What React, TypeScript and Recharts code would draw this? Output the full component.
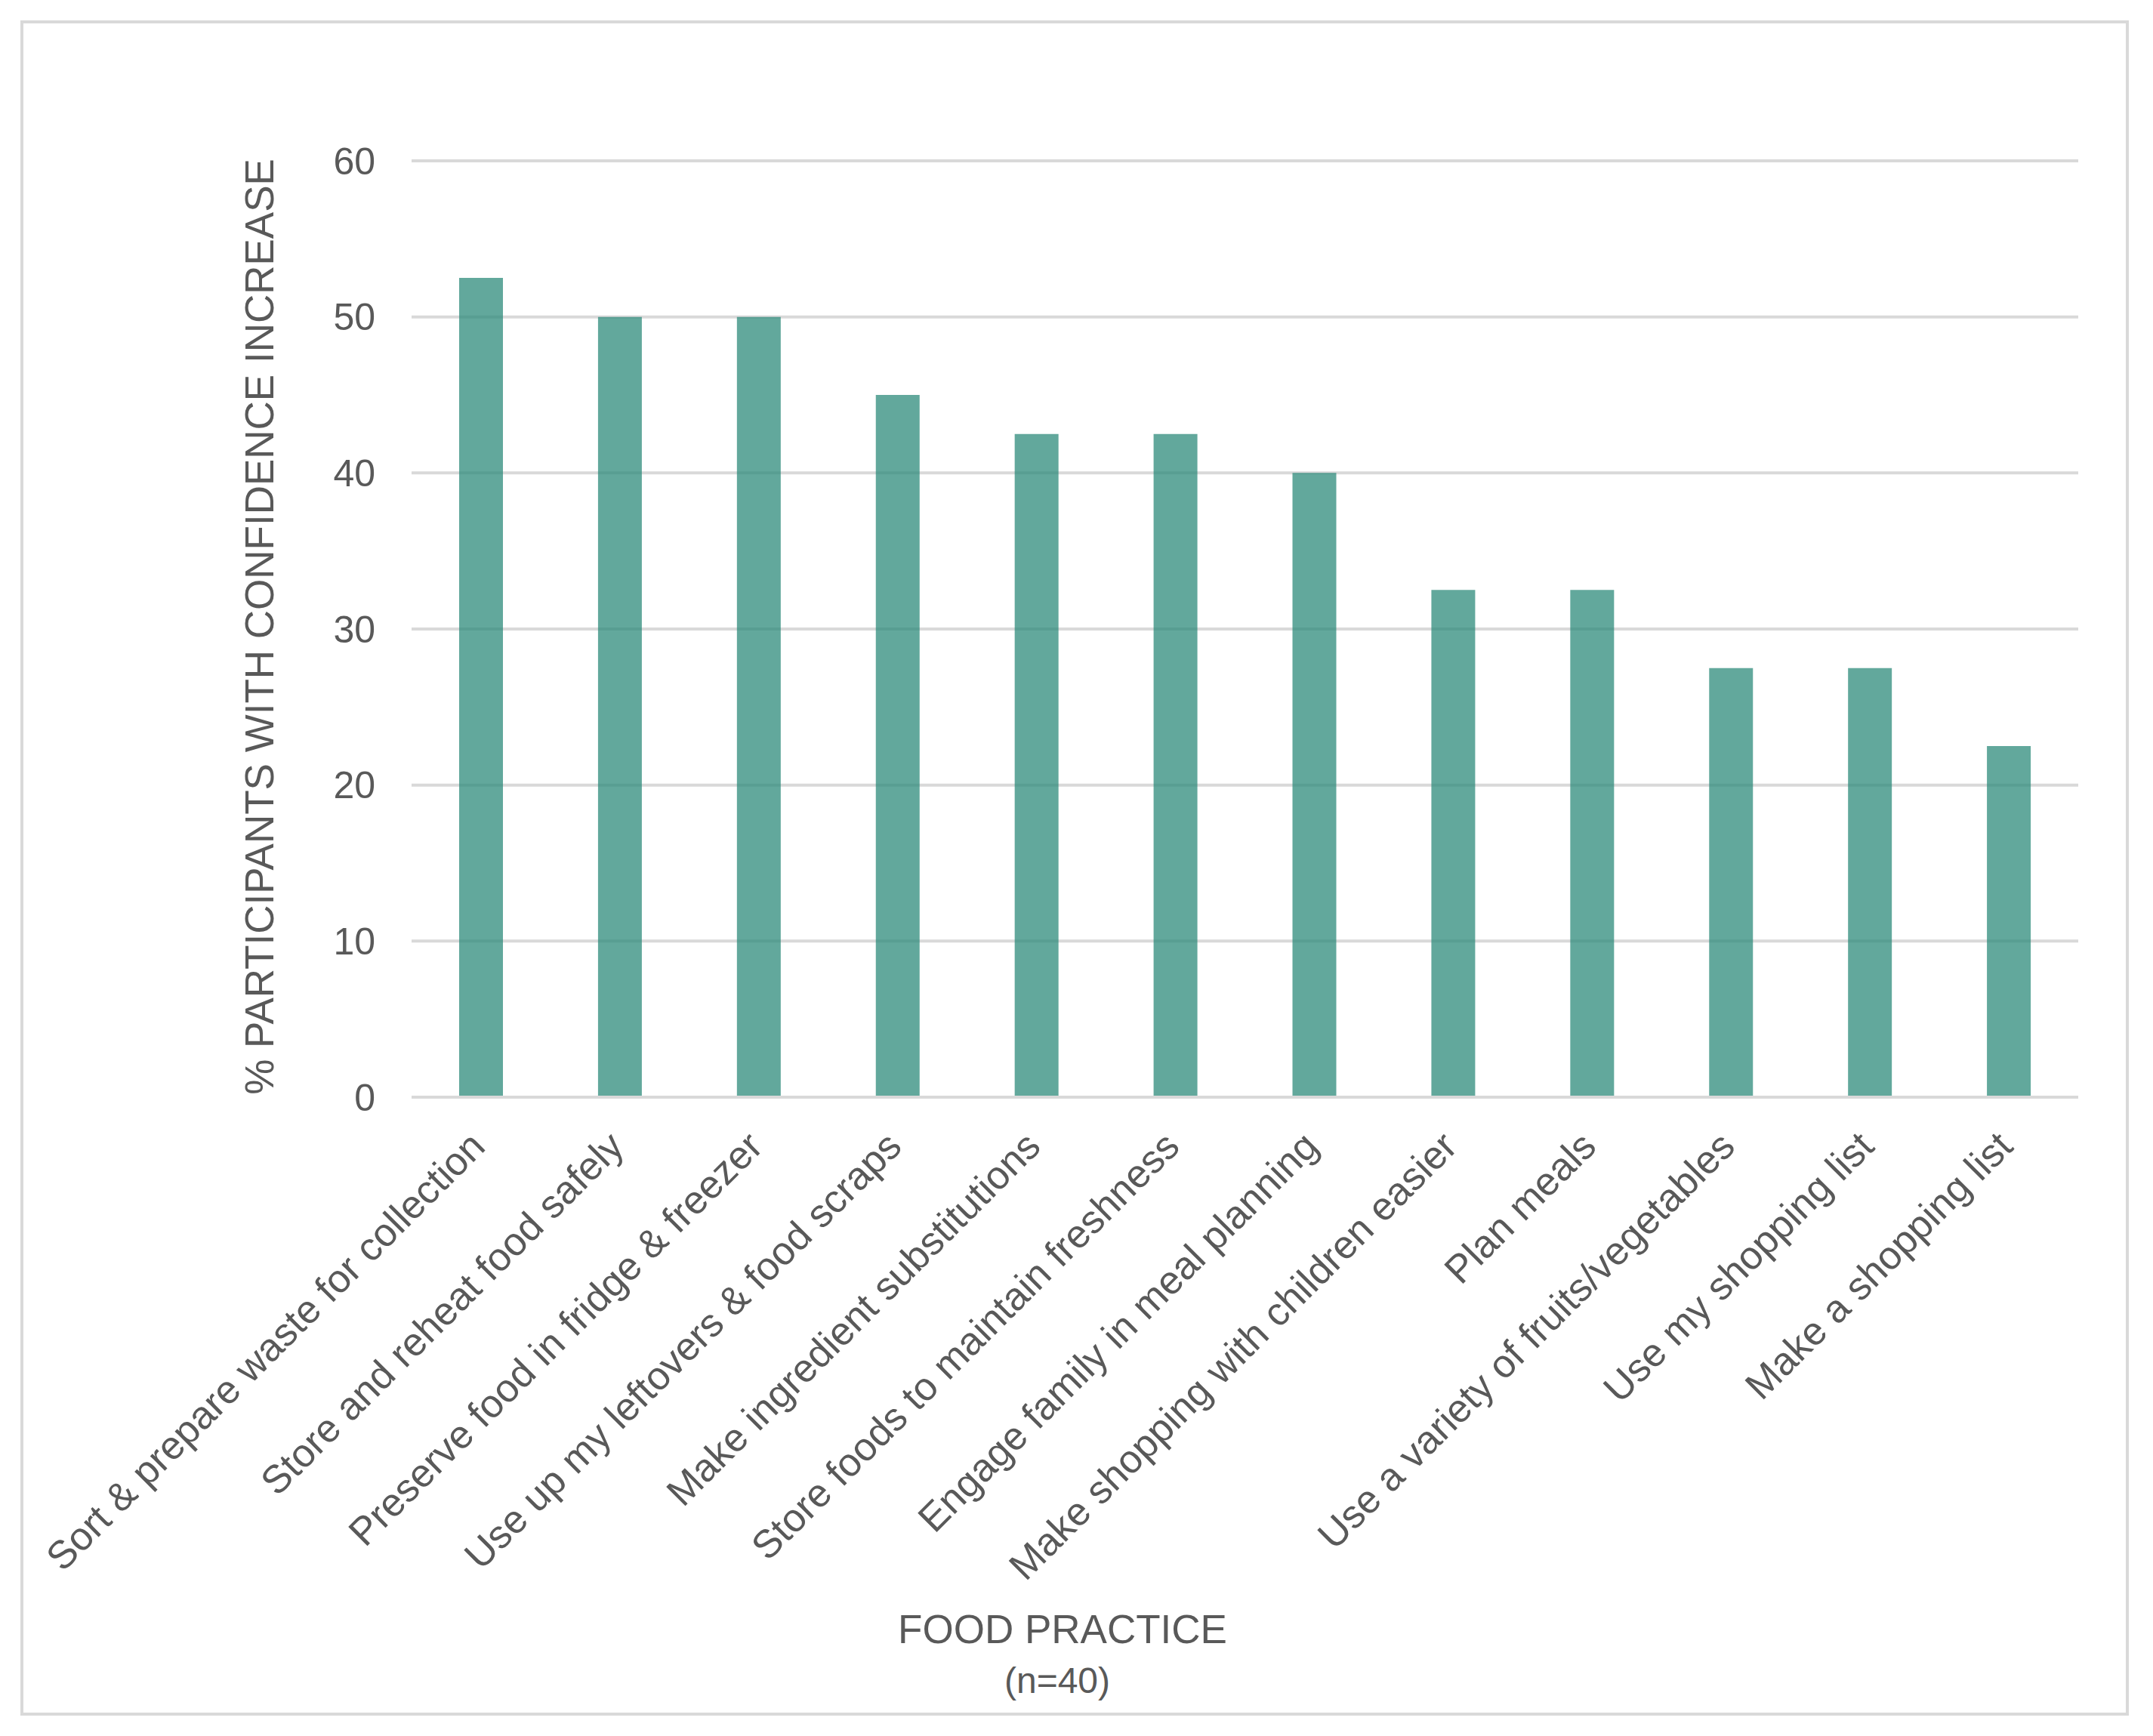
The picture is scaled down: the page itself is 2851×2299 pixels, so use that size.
import React from "react";
import { BarChart, Bar, XAxis, YAxis, CartesianGrid, Label } from "recharts";

const categories: string[] = [
  "Sort & prepare waste for collection",
  "Store and reheat food safely",
  "Preserve food in fridge & freezer",
  "Use up my leftovers & food scraps",
  "Make ingredient substitutions",
  "Store foods to maintain freshness",
  "Engage family in meal planning",
  "Make shopping with children easier",
  "Plan meals",
  "Use a variety of fruits/vegetables",
  "Use my shopping list",
  "Make a shopping list",
];

const confidenceIncrease: number[] = [52.5, 50, 50, 45, 42.5, 42.5, 40, 32.5, 32.5, 27.5, 27.5, 22.5];

const yTicks: number[] = [0, 10, 20, 30, 40, 50, 60];

const xTitle = "FOOD PRACTICE";
const xSubtitle = "(n=40)";
const yTitle = "% PARTICIPANTS WITH CONFIDENCE INCREASE";

const data = categories.map((c, i) => ({ practice: c, value: confidenceIncrease[i] }));

const FONT = '"Liberation Sans", Arial, Helvetica, sans-serif';
const TEXT = "#595959";
const GRID = "#d9d9d9";

const CategoryTick = (props: any) => {
  const { x, y, payload } = props;
  return (
    <g transform={`translate(${x + 8},${y + 68})`}>
      <text
        transform="rotate(-45)"
        textAnchor="end"
        fill={TEXT}
        fontSize={52}
        fontFamily={FONT}
      >
        {payload.value}
      </text>
    </g>
  );
};

const XTitle = () => (
  <g>
    <text x={1407} y={2176} textAnchor="middle" fill={TEXT} fontSize={53} fontFamily={FONT}>
      {xTitle}
    </text>
    <text x={1400} y={2242} textAnchor="middle" fill={TEXT} fontSize={48} fontFamily={FONT}>
      {xSubtitle}
    </text>
  </g>
);

const YTitle = () => (
  <text
    x={0}
    y={0}
    transform="translate(362,830) rotate(-90)"
    textAnchor="middle"
    fill={TEXT}
    fontSize={53}
    fontFamily={FONT}
  >
    {yTitle}
  </text>
);

export default function App() {
  return (
    <div
      style={{
        position: "absolute",
        left: 0,
        top: 0,
        width: 2851,
        height: 2299,
        background: "#ffffff",
      }}
    >
      <div
        style={{
          position: "absolute",
          left: 27,
          top: 27,
          width: 2792,
          height: 2245,
          boxSizing: "border-box",
          border: `4px solid ${GRID}`,
        }}
      />
      <div style={{ position: "absolute", left: 0, top: 0 }}>
        <BarChart
          width={2851}
          height={2299}
          data={data}
          margin={{ top: 213, right: 99, left: 0, bottom: 0 }}
        >
          <CartesianGrid horizontal={true} vertical={false} stroke={GRID} strokeWidth={4} />
          <XAxis
            dataKey="practice"
            height={846}
            interval={0}
            tickLine={false}
            tickSize={0}
            tickMargin={0}
            axisLine={{ stroke: GRID, strokeWidth: 4 }}
            tick={<CategoryTick />}
          >
            <Label content={<XTitle />} />
          </XAxis>
          <YAxis
            width={545}
            domain={[0, 60]}
            ticks={yTicks}
            interval={0}
            tickLine={false}
            axisLine={false}
            tickSize={0}
            tickMargin={48}
            tick={{ fill: TEXT, fontSize: 50, fontFamily: FONT }}
          >
            <Label content={<YTitle />} />
          </YAxis>
          <Bar
            dataKey="value"
            fill="#2b8979"
            fillOpacity={0.74}
            barSize={58}
            isAnimationActive={false}
          />
        </BarChart>
      </div>
    </div>
  );
}
